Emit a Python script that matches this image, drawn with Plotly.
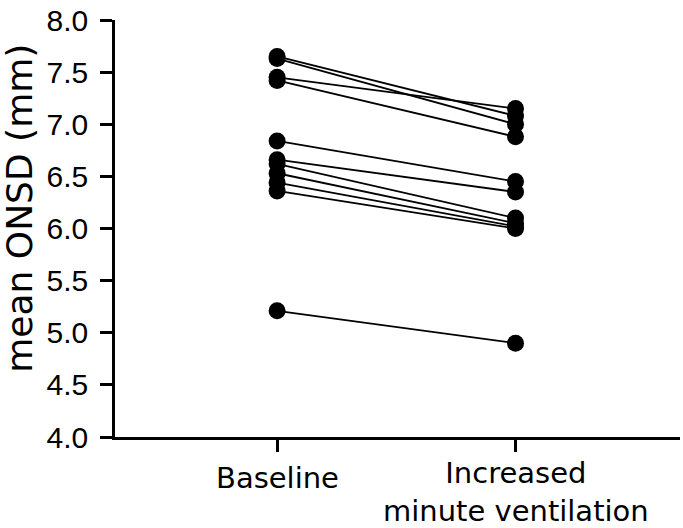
import plotly.graph_objects as go

categories = ["Baseline", "Increased<br>minute ventilation"]
baseline = [7.65, 7.63, 7.45, 7.42, 6.84, 6.66, 6.62, 6.53, 6.44, 6.36, 5.21]
increased = [7.08, 7.00, 7.15, 6.88, 6.45, 6.35, 6.10, 6.05, 6.02, 6.00, 4.90]
y_ticks = [4.0, 4.5, 5.0, 5.5, 6.0, 6.5, 7.0, 7.5, 8.0]

fig = go.Figure()
for b, i in zip(baseline, increased):
    fig.add_trace(go.Scatter(
        x=[0, 1], y=[b, i], mode="lines+markers",
        line=dict(color="black", width=1.8),
        marker=dict(color="black", size=17),
        showlegend=False, hoverinfo="skip"))

W, H = 683, 528
L, R, T, B = 115, 3, 15, 91
PH = H - T - B
label_centers = [478, 493]
annotations = [dict(
    text="mean ONSD (mm)", textangle=-90, showarrow=False,
    xref="paper", yref="paper",
    x=(20 - L) / (W - L - R), y=(H - B - 206) / PH,
    xanchor="center", yanchor="middle",
    font=dict(size=36, family="DejaVu Sans"))]
for ci, txt in enumerate(categories):
    annotations.append(dict(
        text=txt, showarrow=False, xref="x", yref="paper",
        x=ci, y=-(label_centers[ci] - (H - B)) / PH,
        xanchor="center", yanchor="middle",
        font=dict(size=29, family="DejaVu Sans")))

fig.update_layout(
    width=W, height=H,
    margin=dict(l=L, r=R, t=T, b=B),
    plot_bgcolor="white", paper_bgcolor="white",
    font=dict(family="Liberation Sans, Arial", color="black"),
    xaxis=dict(
        range=[-0.68, 1.69], tickvals=[0, 1], ticktext=["", ""],
        showline=True, linecolor="black", linewidth=2.5,
        ticks="outside", ticklen=12, tickwidth=2.5, tickcolor="black",
        showgrid=False, zeroline=False,
    ),
    yaxis=dict(
        range=[4, 8], tickvals=y_ticks,
        ticktext=[f"{v:.1f}" for v in y_ticks],
        showline=True, linecolor="black", linewidth=2.5,
        ticks="outside", ticklen=12, tickwidth=2.5, tickcolor="black",
        showgrid=False, zeroline=False,
        tickfont=dict(size=30), ticklabeloverflow="allow",
        ticklabelstandoff=6,
    ),
    annotations=annotations,
)
fig.write_html("out.html")
